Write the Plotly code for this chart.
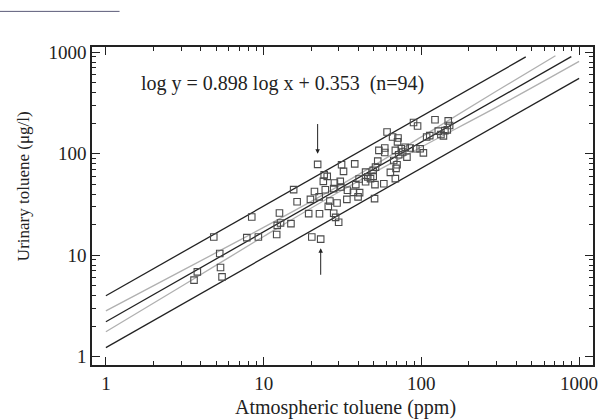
import numpy as np
import plotly.graph_objects as go

# ---- data ----
atm_ppm = [3.62, 3.80, 5.33, 5.45, 4.83, 5.27, 7.82, 9.26, 8.41, 12.2,
           12.1, 12.6, 12.8, 14.9, 15.5, 16.3, 19.3, 20.2, 23.0, 22.0,
           22.6, 19.8, 21.0, 22.5, 24.6, 24.2, 25.3, 23.9, 26.3, 29.2,
           25.7, 27.8, 28.6, 29.9, 28.1, 30.6, 27.8, 30.9, 31.2, 32.1,
           37.8, 33.7, 34.0, 37.1, 38.4, 39.7, 40.6, 40.3, 44.3, 45.7,
           47.6, 44.3, 49.5, 50.8, 57.8, 50.5, 51.2, 49.5, 52.9, 53.8,
           58.6, 58.6, 63.6, 68.4, 66.8, 70.1, 69.1, 68.4, 71.8, 74.6,
           76.1, 79.0, 81.0, 84.9, 92.2, 103, 98.2, 60.6, 65.7, 71.1,
           70.6, 89.2, 94.6, 108, 113, 122, 128, 133, 138, 141,
           148, 151, 146]
urine_ugl = [5.68, 6.85, 7.57, 6.12, 15.1, 10.4, 14.9, 15.1, 23.8, 19.7,
             16.0, 26.1, 20.8, 20.5, 44.3, 33.6, 25.7, 15.1, 14.4, 78.5,
             25.6, 35.5, 42.4, 37.6, 44.1, 61.9, 59.8, 53.4, 34.2, 32.7,
             30.3, 25.9, 23.6, 21.1, 51.4, 53.4, 45.3, 47.0, 78.0, 67.0,
             79.4, 35.5, 43.6, 41.6, 49.6, 37.6, 41.4, 56.3, 65.9, 59.1,
             56.8, 53.0, 59.8, 49.6, 50.7, 36.1, 73.8, 68.5, 84.6, 108,
             114, 103, 65.5, 56.8, 85.9, 78.0, 71.7, 108, 97.7, 112,
             104, 116, 92.6, 114, 112, 102, 112, 164, 146, 143,
             131, 203, 188, 146, 151, 216, 167, 155, 150, 169,
             211, 190, 172]

# regression line and bands
fit_x = [1, 892]
fit_y = [2.21, 906]
ci_up_x = [1, 3, 10, 30, 100, 300, 708]
ci_up_y = [2.83, 6.97, 18.8, 48.2, 146.6, 415, 925]
ci_lo_x = [1, 3, 10, 30, 100, 300, 1000]
ci_lo_y = [1.76, 4.91, 15.3, 42.0, 116.6, 288, 813]
pi_up_x = [1, 459]
pi_up_y = [3.98, 900]
pi_lo_x = [1, 1000]
pi_lo_y = [1.23, 553]

# arrows marking two points
arrow_x = [22.0, 23.0]
arrow_tip = [100.0, 11.7]
arrow_tail = [203.0, 6.2]

x_ticks = [1, 10, 100, 1000]
x_tick_text = ["1", "10", "100", "1000"]
y_ticks = [1, 10, 100, 1000]
y_tick_text = ["1", "10", "100", "1000"]
minor_vals = [m * d for d in (1, 10, 100) for m in range(2, 10)]

equation_text = "log y = 0.898 log x + 0.353  (n=94)"
x_title = "Atmospheric toluene (ppm)"
y_title = "Urinary toluene (μg/l)"

FONT = "Liberation Serif, Times New Roman, serif"
BLACK = "#222222"
GRAY = "#b0b0b0"

fig = go.Figure()
for xs, ys, col in [(pi_up_x, pi_up_y, BLACK), (pi_lo_x, pi_lo_y, BLACK),
                    (ci_up_x, ci_up_y, GRAY), (ci_lo_x, ci_lo_y, GRAY),
                    (fit_x, fit_y, BLACK)]:
    fig.add_trace(go.Scatter(x=xs, y=ys, mode="lines",
                             line=dict(color=col, width=1.3, shape="spline"),
                             showlegend=False, hoverinfo="skip"))

fig.add_trace(go.Scatter(x=atm_ppm, y=urine_ugl, mode="markers",
                         marker=dict(symbol="square-open", size=6.5,
                                     color="#4a4a4a", line=dict(width=1.1)),
                         showlegend=False))

for xv, tip, tail in zip(arrow_x, arrow_tip, arrow_tail):
    fig.add_annotation(x=np.log10(xv), y=np.log10(tip), ax=np.log10(xv),
                       ay=np.log10(tail), xref="x", yref="y", axref="x",
                       ayref="y", showarrow=True, arrowhead=2, arrowsize=0.9,
                       arrowwidth=1, arrowcolor=BLACK, text="")

fig.add_annotation(x=0.093, y=0.886, xref="paper", yref="paper",
                   xanchor="left", yanchor="middle", showarrow=False,
                   text=equation_text, font=dict(family=FONT, size=20, color=BLACK))
fig.add_annotation(x=0.505, y=-0.133, xref="paper", yref="paper",
                   xanchor="center", yanchor="middle", showarrow=False,
                   text=x_title, font=dict(family=FONT, size=20, color=BLACK))
fig.add_annotation(x=-0.138, y=0.562, xref="paper", yref="paper",
                   xanchor="center", yanchor="middle", showarrow=False,
                   textangle=-90,
                   text=y_title, font=dict(family=FONT, size=17, color=BLACK))

# short rule in top-left corner
fig.add_shape(type="line", xref="paper", yref="paper", x0=-0.185, x1=0.055,
              y0=1.112, y1=1.112, line=dict(color="#5a5a78", width=1))

axis_common = dict(type="log", showgrid=False, zeroline=False,
                   showline=True, linecolor=BLACK, linewidth=1.5,
                   mirror="allticks", ticks="inside", ticklen=8,
                   tickwidth=1.2, tickcolor=BLACK,
                   tickfont=dict(family=FONT, size=19, color=BLACK),
                   minor=dict(ticks="inside", ticklen=4, tickwidth=1,
                              tickcolor=BLACK, tickmode="array",
                              tickvals=minor_vals, showgrid=False))

fig.update_xaxes(range=[-0.088, 3.088], tickmode="array", tickvals=x_ticks,
                 ticktext=x_tick_text, **axis_common)
fig.update_yaxes(range=[-0.082, 3.052], tickmode="array", tickvals=y_ticks,
                 ticktext=y_tick_text, **axis_common)

fig.update_layout(width=607, height=419, autosize=False,
                  margin=dict(l=92, r=9, t=47, b=54),
                  plot_bgcolor="white", paper_bgcolor="white",
                  showlegend=False)

fig.write_html("out.html", config={"displayModeBar": False},
               post_script="document.body.style.margin='0px';"
                           "document.body.style.padding='0px';")
